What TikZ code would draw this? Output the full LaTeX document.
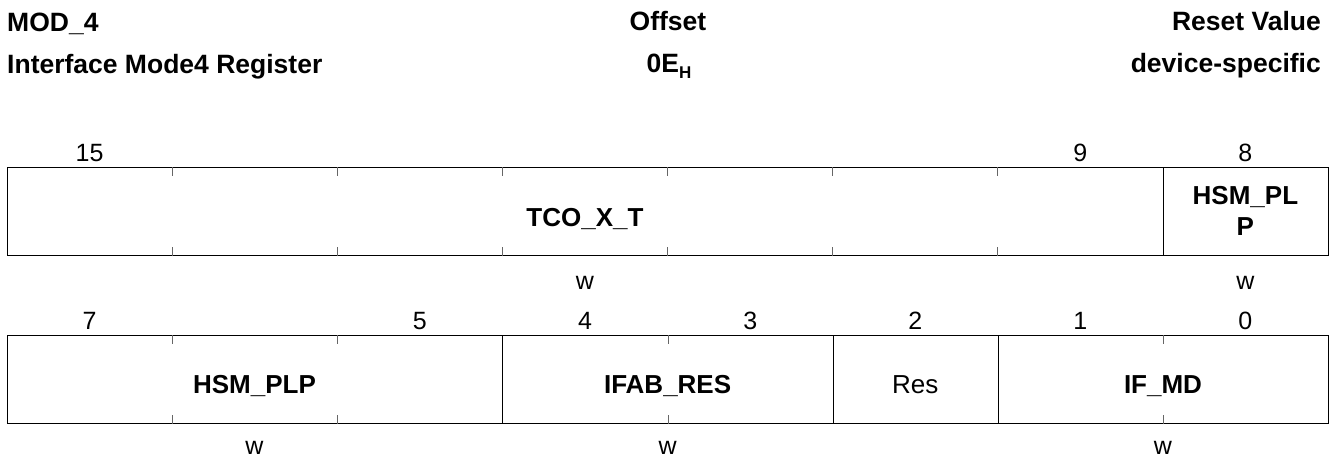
\documentclass[tikz,border=0pt]{standalone}
\usepackage{fontspec}
\setmainfont{Liberation Sans}
\begin{document}
\begin{tikzpicture}[x=1pt,y=-1pt,
  hdr/.style={font=\fontsize{26.5}{30}\selectfont\bfseries, inner sep=0pt},
  bitno/.style={font=\fontsize{25}{28}\selectfont, inner sep=0pt, anchor=base},
  fld/.style={font=\fontsize{26}{30}\selectfont\bfseries, inner sep=0pt, anchor=base},
  rsv/.style={font=\fontsize{26}{30}\selectfont, inner sep=0pt, anchor=base},
  acc/.style={font=\fontsize{25}{28}\selectfont, inner sep=0pt, anchor=base},
  fieldbox/.style={draw=black, line width=1.3pt, inner sep=0pt, anchor=north west, minimum height=88pt},
  tickmark/.style={draw=black!60, line width=1.2pt}]
\useasboundingbox (0,0) rectangle (1339,459);
% header
\node[hdr, anchor=base west] (regname) at (7,31) {MOD\_4};
\node[hdr, anchor=base west] (regtitle) at (7,73) {Interface Mode4 Register};
\node[hdr, anchor=base] (offl) at (668,30) {Offset};
\node[hdr, anchor=base] (offv) at (669,72) {0E\raisebox{-6pt}{\fontsize{17}{17}\selectfont H}};
\node[hdr, anchor=base east] (rstl) at (1321,30) {Reset Value};
\node[hdr, anchor=base east] (rstv) at (1321,72) {device-specific};
% top row fields
\node[fieldbox, minimum width=1156pt] (tco) at (7,167) {};
\node[fieldbox, minimum width=165pt] (hsm8) at (1163,167) {};
\foreach \t in {165.125,330.25,495.375,660.5,825.625,990.75}
  {\draw[tickmark] ([xshift=\t pt]tco.north west) -- ++(0,9);
   \draw[tickmark] ([xshift=\t pt]tco.south west) -- ++(0,-9);}
% top row bit numbers
\node[bitno] (b15) at (89.6,161) {15};
\node[bitno] (b9) at (1080.4,161) {9};
\node[bitno] (b8) at (1245.4,161) {8};
% top row labels
\node[fld] (ltco) at (585,226) {TCO\_X\_T};
\node[fld] (lhsmA) at (1245.4,204) {HSM\_PL};
\node[fld] (lhsmB) at (1245.4,235) {P};
\node[acc] (wtco) at (585,289) {w};
\node[acc] (whsm8) at (1245.4,289) {w};
% bottom row fields
\node[fieldbox, minimum width=495pt] (hsm) at (7,335) {};
\node[fieldbox, minimum width=331pt] (ifab) at (502,335) {};
\node[fieldbox, minimum width=165pt] (res) at (833,335) {};
\node[fieldbox, minimum width=330pt] (ifmd) at (998,335) {};
\foreach \t in {165.125,330.25}
  {\draw[tickmark] ([xshift=\t pt]hsm.north west) -- ++(0,9);
   \draw[tickmark] ([xshift=\t pt]hsm.south west) -- ++(0,-9);}
\draw[tickmark] (ifab.north) -- ++(0,9);
\draw[tickmark] (ifab.south) -- ++(0,-9);
\draw[tickmark] (ifmd.north) -- ++(0,9);
\draw[tickmark] (ifmd.south) -- ++(0,-9);
% bottom row bit numbers
\node[bitno] (b7) at (89.6,329) {7};
\node[bitno] (b5) at (419.8,329) {5};
\node[bitno] (b4) at (585,329) {4};
\node[bitno] (b3) at (750.2,329) {3};
\node[bitno] (b2) at (915.3,329) {2};
\node[bitno] (b1) at (1080.4,329) {1};
\node[bitno] (b0) at (1245.4,329) {0};
% bottom row labels
\node[fld] (lhsm) at (254.5,393) {HSM\_PLP};
\node[fld] (lifab) at (667.6,393) {IFAB\_RES};
\node[rsv] (lres) at (915.3,393) {Res};
\node[fld] (lifmd) at (1163,393) {IF\_MD};
\node[acc] (whsm) at (254.5,454) {w};
\node[acc] (wifab) at (667.6,454) {w};
\node[acc] (wifmd) at (1163,454) {w};
\end{tikzpicture}
\end{document}
